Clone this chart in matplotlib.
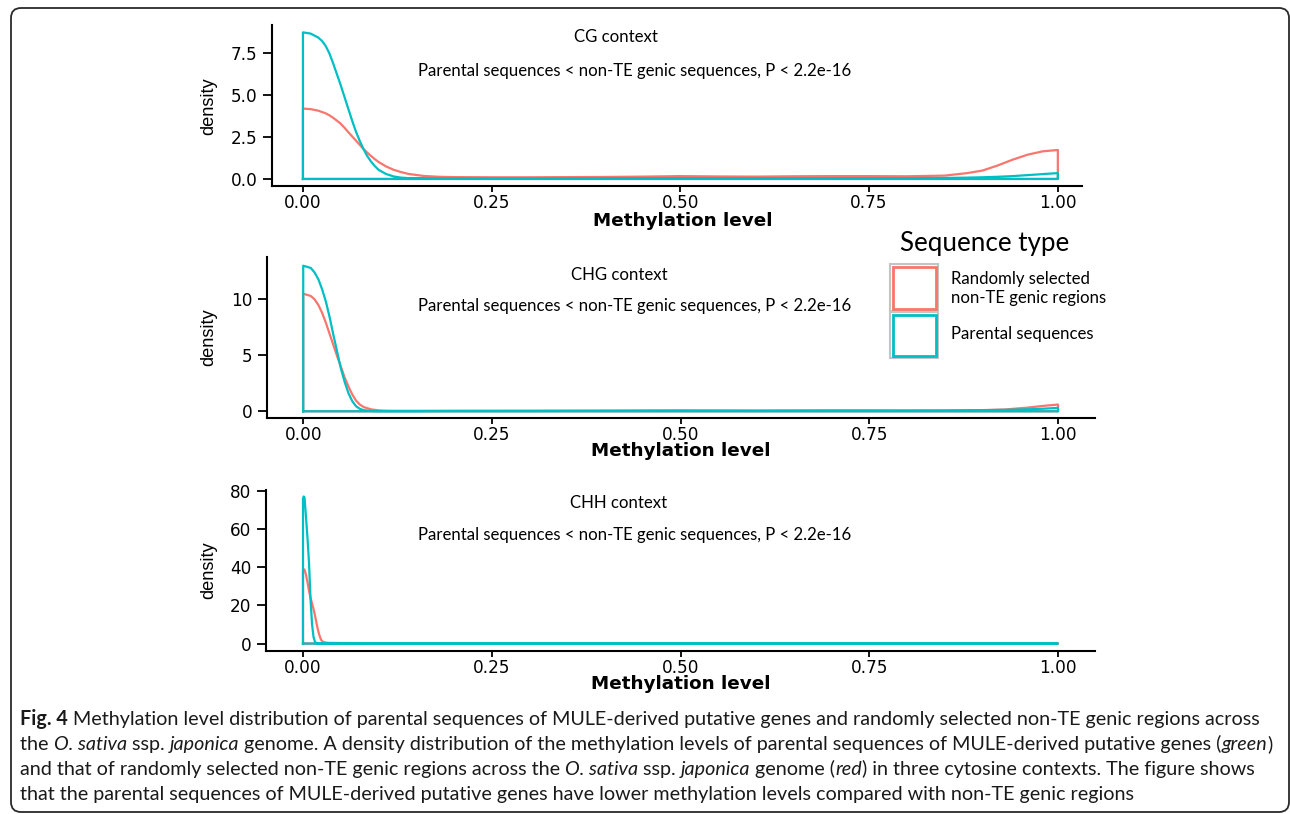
import numpy as np
import matplotlib
matplotlib.use("Agg")
import matplotlib.pyplot as plt
from matplotlib.patches import FancyBboxPatch, Rectangle
from matplotlib.transforms import IdentityTransform
from matplotlib.font_manager import FontProperties

W, H = 1290, 814

# ---------------- data ----------------
contexts = ["CG context", "CHG context", "CHH context"]
test_text = "Parental sequences < non-TE genic sequences, P < 2.2e-16"
series_names = ["Randomly selected\nnon-TE genic regions", "Parental sequences"]
series_colors = ["#F8766D", "#00BFC4"]
legend_title = "Sequence type"
x_label = "Methylation level"
y_label = "density"
x_ticks = [0.00, 0.25, 0.50, 0.75, 1.00]
x_tick_labels = ["0.00", "0.25", "0.50", "0.75", "1.00"]
cg_y_ticks = [0.0, 2.5, 5.0, 7.5]
cg_y_tick_labels = ["0.0", "2.5", "5.0", "7.5"]
chg_y_ticks = [0, 5, 10]
chg_y_tick_labels = ["0", "5", "10"]
chh_y_ticks = [0, 20, 40, 60, 80]
chh_y_tick_labels = ["0", "20", "40", "60", "80"]

cg_level = [0.000, 0.010, 0.020, 0.025, 0.030, 0.035, 0.040, 0.045, 0.050, 0.055, 0.060, 0.065,
            0.070, 0.075, 0.080, 0.085, 0.090, 0.095, 0.100, 0.110, 0.120, 0.130, 0.140, 0.160,
            0.180, 0.200, 0.250, 0.300, 0.350, 0.400, 0.450, 0.500, 0.550, 0.600, 0.650, 0.700,
            0.750, 0.800, 0.850, 0.880, 0.900, 0.920, 0.940, 0.960, 0.980, 1.000]
cg_random = [4.20, 4.17, 4.08, 4.00, 3.92, 3.80, 3.65, 3.48, 3.30, 3.06, 2.80, 2.55,
             2.30, 2.05, 1.80, 1.58, 1.38, 1.19, 1.02, 0.75, 0.55, 0.41, 0.30, 0.18,
             0.13, 0.11, 0.10, 0.10, 0.11, 0.12, 0.14, 0.17, 0.15, 0.14, 0.16, 0.17,
             0.17, 0.16, 0.20, 0.35, 0.50, 0.80, 1.15, 1.45, 1.65, 1.73]
cg_parental = [8.75, 8.68, 8.45, 8.25, 7.95, 7.50, 6.90, 6.25, 5.60, 4.90, 4.20, 3.50,
               2.85, 2.30, 1.80, 1.38, 1.05, 0.78, 0.55, 0.30, 0.15, 0.08, 0.05, 0.04,
               0.03, 0.03, 0.03, 0.03, 0.03, 0.04, 0.04, 0.05, 0.05, 0.04, 0.04, 0.04,
               0.05, 0.05, 0.06, 0.08, 0.10, 0.13, 0.17, 0.23, 0.29, 0.35]

chg_level = [0.000, 0.010, 0.015, 0.020, 0.025, 0.030, 0.035, 0.040, 0.045, 0.050, 0.055, 0.060,
             0.065, 0.070, 0.075, 0.080, 0.090, 0.100, 0.110, 0.120, 0.150, 0.200, 0.300, 0.400,
             0.500, 0.600, 0.700, 0.800, 0.850, 0.900, 0.930, 0.960, 0.980, 1.000]
chg_random = [10.5, 10.3, 10.0, 9.5, 8.8, 7.9, 6.9, 5.9, 4.9, 3.95, 3.0, 2.2,
              1.5, 0.95, 0.6, 0.38, 0.17, 0.08, 0.05, 0.04, 0.04, 0.04, 0.05, 0.06,
              0.08, 0.06, 0.08, 0.07, 0.07, 0.10, 0.16, 0.33, 0.48, 0.60]
chg_parental = [13.0, 12.8, 12.4, 11.8, 10.9, 9.8, 8.4, 6.8, 5.3, 3.8, 2.6, 1.6,
                0.9, 0.45, 0.22, 0.10, 0.03, 0.02, 0.02, 0.02, 0.02, 0.03, 0.03, 0.04,
                0.05, 0.05, 0.06, 0.06, 0.07, 0.10, 0.13, 0.18, 0.23, 0.30]

chh_level = [0.000, 0.001, 0.002, 0.004, 0.006, 0.008, 0.010, 0.012, 0.014, 0.016, 0.018, 0.020,
             0.022, 0.024, 0.026, 0.030, 0.035, 0.050, 0.100, 0.200, 0.500, 0.800, 1.000]
chh_random = [38.0, 38.6, 38.8, 36.0, 32.0, 27.5, 24.0, 21.0, 18.0, 14.5, 10.5, 6.8,
              4.0, 1.9, 1.0, 0.5, 0.35, 0.30, 0.20, 0.10, 0.06, 0.05, 0.08]
chh_parental = [76.0, 77.0, 76.5, 66.0, 55.0, 42.0, 23.0, 10.0, 3.3, 0.8, 0.2, 0.05,
                0.02, 0.01, 0.01, 0.01, 0.01, 0.01, 0.01, 0.01, 0.01, 0.01, 0.01]

caption_lines = [
    [("Fig. 4", "bold"), (" Methylation level distribution of parental sequences of MULE-derived putative genes and randomly selected non-TE genic regions across", "normal")],
    [("the ", "normal"), ("O. sativa", "italic"), (" ssp. ", "normal"), ("japonica", "italic"),
     (" genome. A density distribution of the methylation levels of parental sequences of MULE-derived putative genes (", "normal"),
     ("green", "italic"), (")", "normal")],
    [("and that of randomly selected non-TE genic regions across the ", "normal"), ("O. sativa", "italic"),
     (" ssp. ", "normal"), ("japonica", "italic"), (" genome (", "normal"), ("red", "italic"),
     (") in three cytosine contexts. The figure shows", "normal")],
    [("that the parental sequences of MULE-derived putative genes have lower methylation levels compared with non-TE genic regions", "normal")],
]

# ---------------- figure ----------------
fig = plt.figure(figsize=(W / 100, H / 100), dpi=100)
fig.patch.set_facecolor("white")
renderer = fig.canvas.get_renderer()


def fx(x):
    return x / W


def fy(y):
    return 1 - y / H


def text_w(s, fp):
    w1 = renderer.get_text_width_height_descent(s + "|", fp, False)[0]
    w2 = renderer.get_text_width_height_descent("|", fp, False)[0]
    return w1 - w2


def fit_size(s, target, **kw):
    fp = FontProperties(size=100, **kw)
    w = renderer.get_text_width_height_descent(s, fp, False)[0]
    return 100.0 * target / w


TICK_FONT = "DejaVu Sans"
ANN_FONT = "Lato"
tick_size = 12.2
xlab_size = 13.2
ylab_family = "Liberation Sans"
ylab_size = fit_size(y_label, 58, family=ylab_family)
ann_size = fit_size(test_text, 433, family=ANN_FONT)
leg_title_size = fit_size(legend_title, 169, family=ANN_FONT)
leg_lab_size = fit_size("non-TE genic regions", 155, family=ANN_FONT)

panels = [
    dict(level=cg_level, series=[cg_random, cg_parental], yt=cg_y_ticks, ytl=cg_y_tick_labels,
         box=(272, 1082, 25, 186), xlim=(-0.041, 1.032), ylim=(-0.42, 9.19),
         title_xy=(616, 37), p_y=71, xlab_xy=(683, 225.5), ylab_y=106),
    dict(level=chg_level, series=[chg_random, chg_parental], yt=chg_y_ticks, ytl=chg_y_tick_labels,
         box=(267, 1095, 257, 418), xlim=(-0.048, 1.049), ylim=(-0.60, 13.78),
         title_xy=(619, 275), p_y=306, xlab_xy=(681, 456), ylab_y=337),
    dict(level=chh_level, series=[chh_random, chh_parental], yt=chh_y_ticks, ytl=chh_y_tick_labels,
         box=(266, 1095, 490, 651), xlim=(-0.049, 1.049), ylim=(-3.9, 80.4),
         title_xy=(619, 503), p_y=535, xlab_xy=(681, 689), ylab_y=570),
]

for i, p in enumerate(panels):
    l, r, t, b = p["box"]
    ax = fig.add_axes([fx(l), fy(b), (r - l) / W, (b - t) / H])
    ax.set_facecolor("none")
    x = np.asarray(p["level"], dtype=float)
    for ys, col in zip(p["series"], series_colors):
        y = np.asarray(ys, dtype=float)
        px = np.concatenate([[x[0]], x, [x[-1], x[0]]])
        py = np.concatenate([[0.0], y, [0.0, 0.0]])
        ax.plot(px, py, color=col, lw=1.6, solid_joinstyle="round", clip_on=False)
    ax.set_xlim(*p["xlim"])
    ax.set_ylim(*p["ylim"])
    ax.set_xticks(x_ticks)
    ax.set_xticklabels(x_tick_labels)
    ax.set_yticks(p["yt"])
    ax.set_yticklabels(p["ytl"])
    for s in ("top", "right"):
        ax.spines[s].set_visible(False)
    for s in ("left", "bottom"):
        ax.spines[s].set_linewidth(1.5)
        ax.spines[s].set_color("black")
    ax.tick_params(axis="x", direction="out", length=4, width=1.3, pad=2.0,
                   labelsize=tick_size, colors="black")
    ax.tick_params(axis="y", direction="out", length=6.5, width=1.3, pad=4,
                   labelsize=tick_size, colors="black")
    for lab in ax.get_xticklabels() + ax.get_yticklabels():
        lab.set_family(TICK_FONT)
    ax.set_xlabel(x_label, fontsize=xlab_size, fontweight="bold", family=TICK_FONT)
    ax.xaxis.set_label_coords(fx(p["xlab_xy"][0]), fy(p["xlab_xy"][1]), transform=fig.transFigure)
    ax.xaxis.label.set_verticalalignment("baseline")
    ax.set_ylabel(y_label, fontsize=ylab_size, family=ylab_family)
    ax.yaxis.set_label_coords(fx(209), fy(p["ylab_y"]), transform=fig.transFigure)
    ax.yaxis.label.set_verticalalignment("center")
    ax.yaxis.label.set_horizontalalignment("center")
    ax.text(fx(p["title_xy"][0]), fy(p["title_xy"][1]), contexts[i], transform=fig.transFigure,
            ha="center", va="center", fontsize=ann_size, family=ANN_FONT, color="black")
    ax.text(fx(634.5), fy(p["p_y"]), test_text, transform=fig.transFigure,
            ha="center", va="center", fontsize=ann_size, family=ANN_FONT, color="black")

# ---------------- legend ----------------
fig.text(fx(900), fy(243), legend_title, ha="left", va="center", fontsize=leg_title_size,
         family=ANN_FONT, color="black")
key_boxes = [(890, 264, 48, 47), (890, 312, 48, 46)]
label_y = [288.5, 334]
for (kx, ky, kw, kh), col, name, ly in zip(key_boxes, series_colors, series_names, label_y):
    fig.add_artist(Rectangle((kx, H - ky - kh), kw, kh, transform=IdentityTransform(),
                             fill=True, facecolor="white", edgecolor="#c4c4c4", lw=1.5))
    fig.add_artist(Rectangle((kx + 2.5, H - ky - kh + 2.5), kw - 5, kh - 5, transform=IdentityTransform(),
                             fill=False, edgecolor=col, lw=2.0))
    fig.text(fx(951), fy(ly), name, ha="left", va="center", fontsize=leg_lab_size,
             family=ANN_FONT, color="black", linespacing=1.2)

# ---------------- caption ----------------
CAP_FONT = "Lato"


def run_fp(style, size):
    if style == "bold":
        return FontProperties(family=CAP_FONT, weight="bold", size=size)
    if style == "italic":
        return FontProperties(family=CAP_FONT, style="italic", size=size)
    return FontProperties(family=CAP_FONT, size=size)


w100 = sum(text_w(s, run_fp(st, 100)) for s, st in caption_lines[0])
cap_size = 100.0 * 1240 / w100
baselines = [725, 750, 775, 800]
for runs, base in zip(caption_lines, baselines):
    xcur = 20.0
    for s, st in runs:
        fp = run_fp(st, cap_size)
        fig.text(fx(xcur), fy(base), s, fontproperties=fp, ha="left", va="baseline", color="#1a1a1a")
        xcur += text_w(s, fp)

# ---------------- border ----------------
fig.add_artist(FancyBboxPatch((11, H - 812), 1289 - 11, 812 - 8,
                              boxstyle="round,pad=0,rounding_size=10",
                              transform=IdentityTransform(), fill=False,
                              edgecolor="#2a2a2a", lw=1.3))

fig.savefig("out.png", dpi=100, facecolor="white")
